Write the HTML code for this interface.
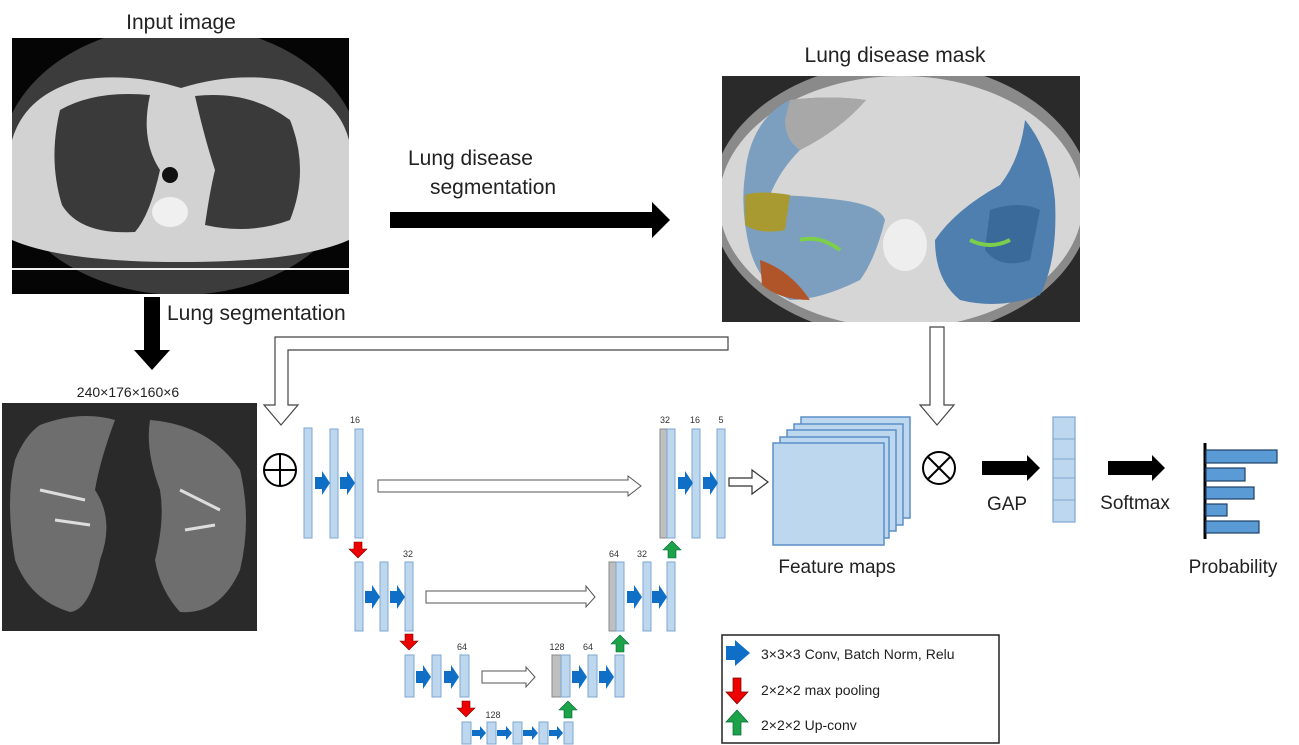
<!DOCTYPE html>
<html><head><meta charset="utf-8"><style>
html,body{margin:0;padding:0;background:#fff;}
svg{display:block;font-family:"Liberation Sans","DejaVu Sans",sans-serif;}
</style></head><body>
<svg width="1299" height="745" viewBox="0 0 1299 745" xmlns="http://www.w3.org/2000/svg">
<defs>
<path id="blue" d="M0,-6 H7 V-12 L15,0 L7,12 V6 H0 Z" fill="#0f6fc6"/>
<path id="red" d="M-4,0 H4 V7 H9 L0,16 L-9,7 H-4 Z" fill="#e00" stroke="#700" stroke-width="0.6"/>
<path id="green" d="M-4,17 H4 V9 H9 L0,0 L-9,9 H-4 Z" fill="#1ca34a" stroke="#063" stroke-width="0.6"/>
<clipPath id="c1"><rect x="12" y="38" width="337" height="256"/></clipPath>
<clipPath id="c2"><rect x="722" y="76" width="358" height="246"/></clipPath>
</defs>

<text x="181" y="29" font-size="21" text-anchor="middle" fill="#222">Input image</text>
<text x="895" y="62" font-size="21" text-anchor="middle" fill="#222">Lung disease mask</text>
<text x="408" y="165" font-size="21" fill="#222">Lung disease</text>
<text x="430" y="194" font-size="21" fill="#222">segmentation</text>
<text x="167" y="320" font-size="21" fill="#222">Lung segmentation</text>
<text x="128" y="397" font-size="14" text-anchor="middle" fill="#222">240×176×160×6</text>

<!-- Input CT -->
<g clip-path="url(#c1)">
<rect x="12" y="38" width="337" height="256" fill="#050505"/>
<ellipse cx="181" cy="160" rx="180" ry="135" fill="#3c3c3c"/>
<path d="M12,140 Q25,95 80,80 Q130,72 181,88 Q232,72 282,80 Q337,95 349,140 V240 Q300,262 181,262 Q62,262 12,240 Z" fill="#d2d2d2"/>
<rect x="12" y="268" width="337" height="2" fill="#eee"/>
<path d="M60,110 Q95,90 150,95 Q140,140 160,170 Q150,215 135,232 Q80,235 62,205 Q48,160 60,110 Z" fill="#3a3a3a"/>
<path d="M195,96 Q250,90 290,120 Q310,170 290,220 Q250,235 205,225 Q210,190 215,170 Q205,140 195,96 Z" fill="#3a3a3a"/>
<circle cx="170" cy="175" r="8" fill="#111"/>
<ellipse cx="170" cy="212" rx="18" ry="15" fill="#f0f0f0"/>
</g>

<!-- Mask CT -->
<g clip-path="url(#c2)">
<rect x="722" y="76" width="358" height="246" fill="#2a2a2a"/>
<ellipse cx="901" cy="200" rx="190" ry="138" fill="#8a8a8a"/>
<ellipse cx="901" cy="202" rx="182" ry="126" fill="#d6d6d6"/>
<path d="M745,175 Q750,120 790,100 Q830,95 866,100 Q840,130 800,150 Q780,170 770,195 Q800,195 840,200 Q880,205 885,220 Q875,260 860,280 Q820,300 790,300 Q760,285 750,250 Q740,210 745,175 Z" fill="#7d9fbf"/>
<path d="M790,100 Q830,95 866,100 Q840,130 800,150 Q785,140 785,120 Z" fill="#a8a8a8"/>
<path d="M745,195 Q760,190 790,195 L785,230 Q760,235 745,225 Z" fill="#a89a30"/>
<path d="M760,260 Q790,270 810,300 Q780,300 762,285 Z" fill="#b0552a"/>
<path d="M1025,120 Q1050,150 1055,200 Q1058,260 1040,295 Q1000,310 960,300 Q935,280 935,240 Q955,210 1000,185 Q1020,160 1025,120 Z" fill="#4f7fae"/>
<path d="M990,210 Q1020,200 1040,210 L1030,260 Q1000,270 985,250 Z" fill="#3a6a9a"/>
<path d="M800,240 Q820,235 840,250" stroke="#7ccf4a" stroke-width="4" fill="none"/>
<path d="M970,240 Q990,250 1010,240" stroke="#7ccf4a" stroke-width="4" fill="none"/>
<ellipse cx="905" cy="245" rx="22" ry="26" fill="#eee"/>
</g>

<path d="M390,212 H652 V202 L670,220 L652,238 V228 H390 Z" fill="#000"/>
<path d="M144,297 H160 V350 H170 L152,370 L134,350 H144 Z" fill="#000"/>

<rect x="2" y="403" width="255" height="228" fill="#2a2a2a"/>
<path d="M40,425 Q80,410 115,420 Q100,460 95,490 Q115,520 100,560 Q90,610 70,612 Q30,600 15,560 Q5,500 15,460 Q25,435 40,425 Z" fill="#6e6e6e"/>
<path d="M150,420 Q210,425 240,470 Q252,520 240,570 Q220,615 180,612 Q160,590 155,560 Q165,520 160,490 Q145,450 150,420 Z" fill="#6e6e6e"/>
<path d="M40,490 L85,500 M55,520 L90,525 M180,490 L220,510 M185,530 L215,525" stroke="#ddd" stroke-width="3"/>

<path d="M728,337 V350 H288 V405 H298 L281,425 L264,405 H275 V337 Z" fill="#fff" stroke="#444" stroke-width="1.2"/>
<path d="M930,327 H944 V405 H954 L937,425 L920,405 H930 Z" fill="#fff" stroke="#444" stroke-width="1.2"/>

<circle cx="280" cy="470" r="16" fill="none" stroke="#000" stroke-width="2"/>
<path d="M264,470 H296 M280,454 V486" stroke="#000" stroke-width="2"/>
<circle cx="939" cy="468" r="16" fill="none" stroke="#000" stroke-width="2"/>
<path d="M928,457 L950,479 M950,457 L928,479" stroke="#000" stroke-width="2"/>

<g font-size="9" fill="#333" text-anchor="middle">
<rect x="304" y="428" width="8" height="110" fill="#bdd7ee" stroke="#7fa7d1"/>
<rect x="330" y="429" width="8" height="109" fill="#bdd7ee" stroke="#7fa7d1"/>
<rect x="355" y="429" width="8" height="109" fill="#bdd7ee" stroke="#7fa7d1"/>
<use href="#blue" x="315" y="483"/><use href="#blue" x="340" y="483"/>
<text x="355" y="423">16</text>
<path d="M378,480 H628 V476 L641,486 L628,496 V492 H378 Z" fill="#fff" stroke="#555"/>
<rect x="660" y="429" width="7" height="109" fill="#bfbfbf" stroke="#888"/>
<rect x="667" y="429" width="8" height="109" fill="#bdd7ee" stroke="#7fa7d1"/>
<rect x="692" y="429" width="8" height="109" fill="#bdd7ee" stroke="#7fa7d1"/>
<rect x="717" y="429" width="8" height="109" fill="#bdd7ee" stroke="#7fa7d1"/>
<use href="#blue" x="678" y="483"/><use href="#blue" x="703" y="483"/>
<text x="665" y="423">32</text><text x="695" y="423">16</text><text x="721" y="423">5</text>
<use href="#red" x="358" y="542"/>
<use href="#green" x="672" y="541"/>

<rect x="355" y="562" width="8" height="69" fill="#bdd7ee" stroke="#7fa7d1"/>
<rect x="380" y="562" width="8" height="69" fill="#bdd7ee" stroke="#7fa7d1"/>
<rect x="405" y="562" width="8" height="69" fill="#bdd7ee" stroke="#7fa7d1"/>
<use href="#blue" x="365" y="597"/><use href="#blue" x="390" y="597"/>
<text x="408" y="557">32</text>
<path d="M426,591 H586 V586 L595,597 L586,607 V603 H426 Z" fill="#fff" stroke="#555"/>
<rect x="609" y="562" width="7" height="69" fill="#bfbfbf" stroke="#888"/>
<rect x="616" y="562" width="8" height="69" fill="#bdd7ee" stroke="#7fa7d1"/>
<rect x="643" y="562" width="8" height="69" fill="#bdd7ee" stroke="#7fa7d1"/>
<rect x="667" y="562" width="8" height="69" fill="#bdd7ee" stroke="#7fa7d1"/>
<use href="#blue" x="627" y="597"/><use href="#blue" x="652" y="597"/>
<text x="614" y="557">64</text><text x="642" y="557">32</text>
<use href="#red" x="409" y="634"/>
<use href="#green" x="620" y="635"/>

<rect x="405" y="655" width="9" height="42" fill="#bdd7ee" stroke="#7fa7d1"/>
<rect x="432" y="655" width="9" height="42" fill="#bdd7ee" stroke="#7fa7d1"/>
<rect x="460" y="655" width="9" height="42" fill="#bdd7ee" stroke="#7fa7d1"/>
<use href="#blue" x="416" y="677"/><use href="#blue" x="444" y="677"/>
<text x="462" y="650">64</text>
<path d="M482,671 H526 V667 L535,677 L526,687 V683 H482 Z" fill="#fff" stroke="#555"/>
<rect x="552" y="655" width="9" height="42" fill="#bfbfbf" stroke="#888"/>
<rect x="561" y="655" width="9" height="42" fill="#bdd7ee" stroke="#7fa7d1"/>
<rect x="588" y="655" width="9" height="42" fill="#bdd7ee" stroke="#7fa7d1"/>
<rect x="615" y="655" width="9" height="42" fill="#bdd7ee" stroke="#7fa7d1"/>
<use href="#blue" x="572" y="677"/><use href="#blue" x="599" y="677"/>
<text x="557" y="650">128</text><text x="588" y="650">64</text>
<use href="#red" x="466" y="701"/>
<use href="#green" x="568" y="701"/>

<rect x="462" y="722" width="9" height="22" fill="#bdd7ee" stroke="#7fa7d1"/>
<rect x="487" y="722" width="9" height="22" fill="#bdd7ee" stroke="#7fa7d1"/>
<rect x="513" y="722" width="9" height="22" fill="#bdd7ee" stroke="#7fa7d1"/>
<rect x="539" y="722" width="9" height="22" fill="#bdd7ee" stroke="#7fa7d1"/>
<rect x="564" y="722" width="9" height="22" fill="#bdd7ee" stroke="#7fa7d1"/>
<path d="M472,730 H480 V726 L486,733 L480,740 V736 H472 Z M497,730 H506 V726 L512,733 L506,740 V736 H497 Z M523,730 H532 V726 L538,733 L532,740 V736 H523 Z M549,730 H557 V726 L563,733 L557,740 V736 H549 Z" fill="#0f6fc6"/>
<text x="493" y="718">128</text>
</g>

<path d="M729,478 H752 V470 L768,482 L752,494 V486 H729 Z" fill="#fff" stroke="#333" stroke-width="1.2"/>

<g fill="#bdd7ee" stroke="#5b8fc7" stroke-width="1.5">
<rect x="801" y="417" width="109" height="101"/>
<rect x="794" y="424" width="109" height="101"/>
<rect x="787" y="430" width="109" height="101"/>
<rect x="780" y="437" width="109" height="101"/>
<rect x="773" y="443" width="111" height="102"/>
</g>
<text x="837" y="573" font-size="19" text-anchor="middle" fill="#222">Feature maps</text>

<path d="M982,461 H1027 V455 L1040,468 L1027,481 V475 H982 Z" fill="#000"/>
<text x="1007" y="510" font-size="19" text-anchor="middle" fill="#222">GAP</text>
<rect x="1053" y="417" width="22" height="105" fill="#bdd7ee" stroke="#7fa7d1" stroke-width="1.2"/>
<path d="M1053,439 H1075 M1053,459 H1075 M1053,478 H1075 M1053,500 H1075" stroke="#7fa7d1" stroke-width="1"/>
<path d="M1108,461 H1152 V455 L1165,468 L1152,481 V475 H1108 Z" fill="#000"/>
<text x="1135" y="509" font-size="19" text-anchor="middle" fill="#222">Softmax</text>

<line x1="1205" y1="443" x2="1205" y2="539" stroke="#000" stroke-width="3"/>
<g fill="#5b9bd5" stroke="#1f3f66" stroke-width="1.2">
<rect x="1206" y="450" width="71" height="13"/>
<rect x="1206" y="468" width="39" height="13"/>
<rect x="1206" y="487" width="48" height="12"/>
<rect x="1206" y="504" width="21" height="12"/>
<rect x="1206" y="521" width="53" height="12"/>
</g>
<text x="1233" y="573" font-size="19" text-anchor="middle" fill="#222">Probability</text>

<rect x="722" y="635" width="277" height="108" fill="#fff" stroke="#222" stroke-width="1.5"/>
<path d="M726,646 H735 V640 L750,653 L735,666 V660 H726 Z" fill="#0f6fc6"/>
<text x="761" y="659" font-size="14" fill="#222">3×3×3 Conv, Batch Norm, Relu</text>
<path d="M733,678 H741 V692 H748 L737,704 L726,692 H733 Z" fill="#e00" stroke="#700" stroke-width="0.7"/>
<text x="761" y="695" font-size="14" fill="#222">2×2×2 max pooling</text>
<path d="M733,735 H741 V722 H748 L737,710 L726,722 H733 Z" fill="#1ca34a" stroke="#063" stroke-width="0.7"/>
<text x="761" y="730" font-size="14" fill="#222">2×2×2 Up-conv</text>
</svg>
</body></html>
